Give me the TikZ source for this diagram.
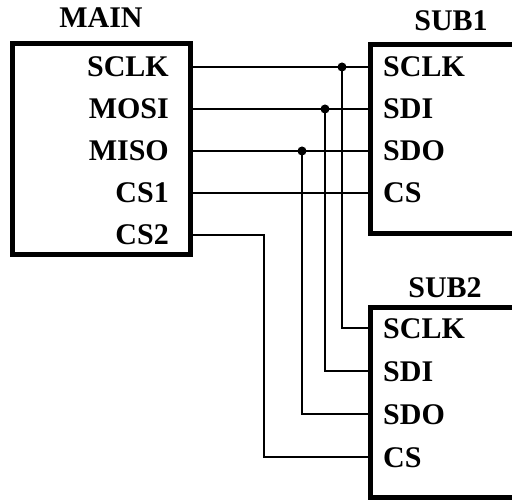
\documentclass[tikz,border=0pt]{standalone}
\usepackage{fontspec}
\setmainfont{Liberation Serif}
\usepackage{tikz}
\usetikzlibrary{arrows.meta,positioning}

\begin{document}
\begin{tikzpicture}[x=1pt, y=-1pt,
        chip/.style={draw, line width=5pt, inner sep=0pt},
        pinname/.style={font=\fontsize{30}{35}\selectfont\bfseries, inner sep=0pt, text height=20pt, text depth=0pt},
        chipname/.style={pinname, anchor=base},
        wire/.style={line width=2pt}]
            \clip (0,0) rectangle (512,500);
            \node[chip, minimum width=178pt, minimum height=211pt] (main) at (101.5,149) {};
            \node[chip, minimum width=159.5pt, minimum height=189pt] (sub1) at (450.25,139) {};
            \node[chip, minimum width=159.5pt, minimum height=190pt] (sub2) at (450.25,402.5) {};
            \node[chipname] (mainname) at (101,28) {MAIN};
            \node[chipname] (sub1name) at (451,31) {SUB1};
            \node[chipname] (sub2name) at (445,298) {SUB2};
            \foreach \name [count=\i] in {SCLK,MOSI,MISO,CS1,CS2} {
                \node[pinname, anchor=east] (m\i) at (169,25+42*\i) {\name};
                \coordinate (mp\i) at (main.east |- m\i);
            }
            \foreach \name [count=\i] in {SCLK,SDI,SDO,CS} {
                \node[pinname, anchor=west] (a\i) at (383,25+42*\i) {\name};
                \coordinate (ap\i) at (sub1.west |- a\i);
                \node[pinname, anchor=west] (b\i) at (383,285+43*\i) {\name};
                \coordinate (bp\i) at (sub2.west |- b\i);
            }
            \coordinate (j1) at (342,67);
            \coordinate (j2) at (325,109);
            \coordinate (j3) at (302,151);
            \coordinate (c5) at (264,235);
            \foreach \i in {1,...,4}
                \draw[wire] (mp\i) -- (ap\i);
            \foreach \i in {1,2,3}
                \draw[wire] (j\i) |- (bp\i);
            \draw[wire] (mp5) -- (c5) |- (bp4);
            \foreach \i in {1,2,3}
                \fill (j\i) circle (4.5pt);
        \end{tikzpicture}
\end{document}
